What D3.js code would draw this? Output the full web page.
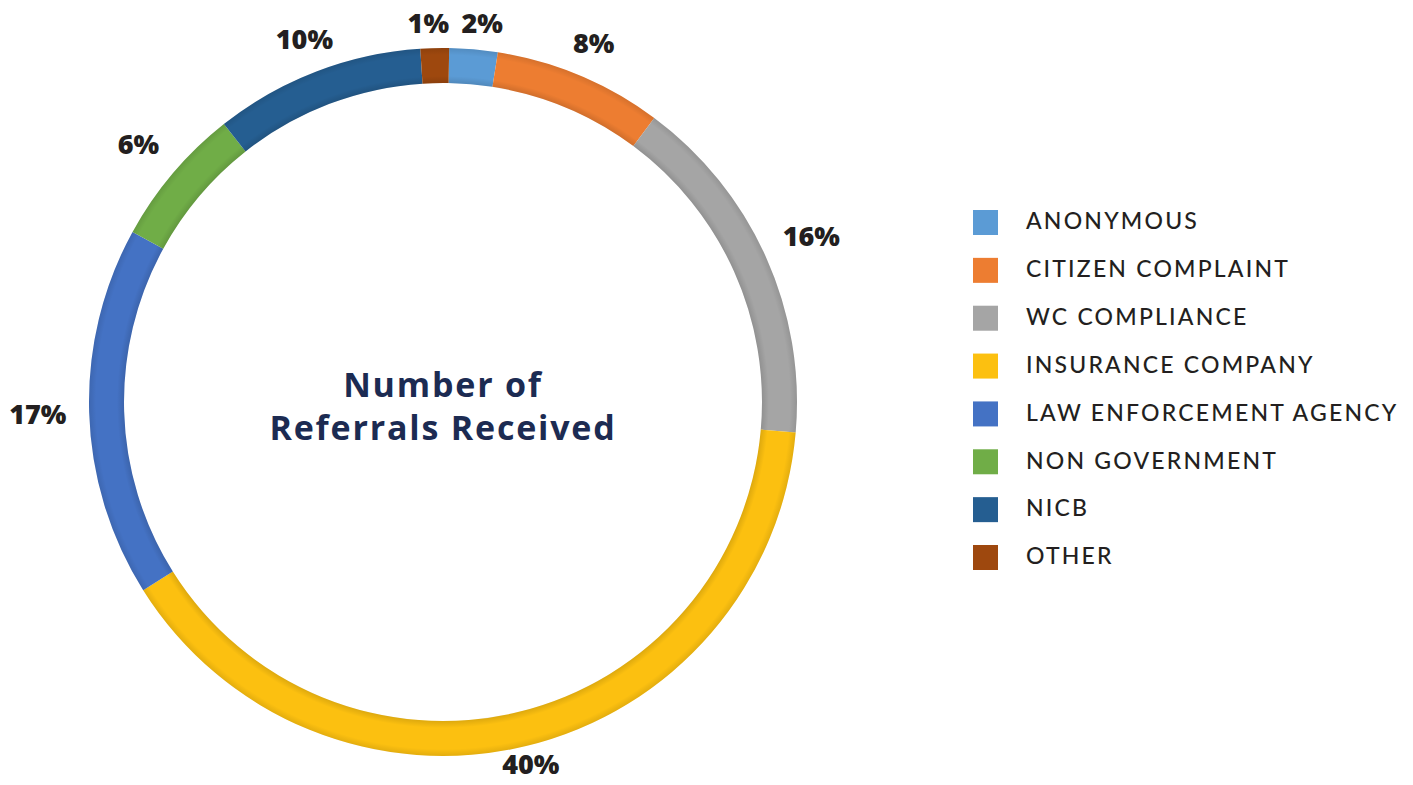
<!DOCTYPE html>
<html>
<head>
<meta charset="utf-8">
<script src="https://cdn.jsdelivr.net/npm/d3@7"></script>
<style>
  body { margin: 0; background: #fff; }
  svg { display: block; }
</style>
</head>
<body>
<svg width="1413" height="785"></svg>
<script>
// data
var categories = ["ANONYMOUS", "CITIZEN COMPLAINT", "WC COMPLIANCE", "INSURANCE COMPANY",
                  "LAW ENFORCEMENT AGENCY", "NON GOVERNMENT", "NICB", "OTHER"];
var shares = [2.2, 7.7, 16.2, 39.7, 16.9, 6.4, 9.6, 1.3];
var colors = ["#5b9bd5", "#ed7d31", "#a5a5a5", "#fcc010", "#4472c4", "#70ad47", "#255e91", "#9e480e"];
var titleLines = ["Number of", "Referrals Received"];

var svg = d3.select("svg"),
  width = +svg.attr("width"),
  height = +svg.attr("height");

var cx = 443, cy = 402,
  outerR = 354, innerR = 319;

var data = categories.map(function(c, i) {
  return { name: c, value: shares[i], color: colors[i] };
});

var color = d3.scaleOrdinal().domain(categories).range(colors);

// excel-ish first slice angle, a touch past 12 o'clock
var start = 1 * Math.PI / 180;

var pie = d3.pie()
  .sort(null)
  .value(function(d) { return d.value; })
  .startAngle(start)
  .endAngle(start + 2 * Math.PI);

var arc = d3.arc().innerRadius(innerR).outerRadius(outerR);

var g = svg.append("g").attr("transform", "translate(" + cx + "," + cy + ")");

// bevel shading on the ring
var defs = svg.append("defs");
var grad = defs.append("radialGradient")
  .attr("id", "bevel")
  .attr("gradientUnits", "userSpaceOnUse")
  .attr("cx", 0).attr("cy", 0).attr("r", outerR);
var t0 = innerR / outerR;
grad.append("stop").attr("offset", t0).attr("stop-color", "#000").attr("stop-opacity", 0.12);
grad.append("stop").attr("offset", t0 + (1 - t0) * 0.2).attr("stop-color", "#000").attr("stop-opacity", 0.0);
grad.append("stop").attr("offset", t0 + (1 - t0) * 0.8).attr("stop-color", "#000").attr("stop-opacity", 0.0);
grad.append("stop").attr("offset", 1).attr("stop-color", "#000").attr("stop-opacity", 0.1);

var arcs = pie(data);

g.selectAll("path.slice")
  .data(arcs)
  .enter().append("path")
  .attr("class", "slice")
  .attr("d", arc)
  .attr("fill", function(d) { return color(d.data.name); });

g.append("path")
  .attr("d", d3.arc().innerRadius(innerR).outerRadius(outerR).startAngle(0).endAngle(2 * Math.PI)())
  .attr("fill", "url(#bevel)")
  .style("pointer-events", "none");

// percent labels outside the ring, pushed out more on the sides, pulled in at the bottom
function labelR(a) {
  return outerR + 24 + 28 * Math.abs(Math.sin(a)) - 12 * Math.max(0, -Math.cos(a));
}

var labels = g.selectAll("text.pct")
  .data(arcs)
  .enter().append("text")
  .attr("class", "pct")
  .attr("text-anchor", "middle")
  .attr("dy", "0.36em")
  .style("font-family", "'Open Sans', sans-serif")
  .style("font-weight", 800)
  .style("font-size", "27px")
  .attr("fill", "#231f20")
  .attr("x", function(d) {
    var a = (d.startAngle + d.endAngle) / 2;
    return Math.sin(a) * labelR(a);
  })
  .attr("y", function(d) {
    var a = (d.startAngle + d.endAngle) / 2;
    return -Math.cos(a) * labelR(a);
  })
  .text(function(d) { return Math.round(d.data.value) + "%"; });

// nudge apart labels that bump into each other (the tiny slices at the top)
var boxes = [];
labels.each(function() {
  var bb = this.getBBox();
  boxes.push({ el: this, x: bb.x, y: bb.y, w: bb.width, h: bb.height });
});
for (var iter = 0; iter < 20; iter++) {
  for (var i = 0; i < boxes.length; i++) {
    for (var j = i + 1; j < boxes.length; j++) {
      var a = boxes[i], b = boxes[j];
      var pad = 12;
      var ox = Math.min(a.x + a.w, b.x + b.w) - Math.max(a.x, b.x) + pad;
      var oy = Math.min(a.y + a.h, b.y + b.h) - Math.max(a.y, b.y);
      if (ox > 0 && oy > 0) {
        var dir = (a.x + a.w / 2) < (b.x + b.w / 2) ? -1 : 1;
        a.x += dir * ox / 2;
        b.x -= dir * ox / 2;
      }
    }
  }
}
boxes.forEach(function(b) {
  d3.select(b.el).attr("x", b.x + b.w / 2);
});

// title in the hole
var title = g.append("text")
  .attr("text-anchor", "middle")
  .style("font-family", "'Open Sans', sans-serif")
  .style("font-weight", 700)
  .style("font-size", "34px")
  .style("letter-spacing", "1.8px")
  .attr("fill", "#1c2b52");
title.selectAll("tspan")
  .data(titleLines)
  .enter().append("tspan")
  .attr("x", 0)
  .attr("y", function(d, i) { return -5 + i * 43; })
  .text(function(d) { return d; });

// legend
var legendY = d3.scalePoint().domain(categories).range([221, 556]);
var legend = svg.append("g").attr("class", "legend");
var item = legend.selectAll("g")
  .data(categories)
  .enter().append("g")
  .attr("transform", function(d) { return "translate(973," + legendY(d) + ")"; });

item.append("rect")
  .attr("x", 0).attr("y", -11)
  .attr("width", 25).attr("height", 25)
  .attr("fill", function(d) { return color(d); });

item.append("text")
  .attr("x", 53)
  .attr("y", 0)
  .attr("dy", "0.36em")
  .style("font-family", "Lato, sans-serif")
  .style("font-weight", 500)
  .style("font-size", "23px")
  .style("letter-spacing", "2.2px")
  .attr("fill", "#231f20")
  .text(function(d) { return d; });
</script>
</body>
</html>
